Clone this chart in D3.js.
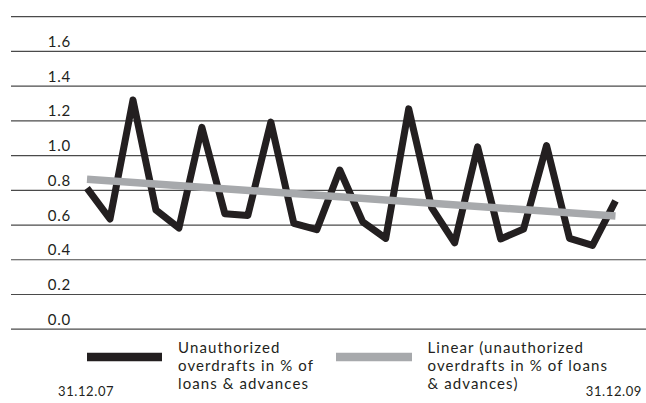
<!DOCTYPE html>
<html>
<head>
<meta charset="utf-8">
<script src="https://cdn.jsdelivr.net/npm/d3@7"></script>
<style>
  html, body { margin: 0; padding: 0; background: #fff; }
  svg { display: block; }
  text { font-family: Lato, "Open Sans", sans-serif; fill: #231f20; }
</style>
</head>
<body>
<svg id="chart" width="646" height="403"></svg>
<script>
// ---- data ----
const categories = ["01.08","02.08","03.08","04.08","05.08","06.08","07.08","08.08","09.08","10.08","11.08","12.08",
                    "01.09","02.09","03.09","04.09","05.09","06.09","07.09","08.09","09.09","10.09","11.09","12.09"];
const overdrafts = [0.81, 0.632, 1.317, 0.684, 0.58, 1.16, 0.662, 0.652, 1.19, 0.607, 0.57, 0.914,
                    0.615, 0.52, 1.266, 0.697, 0.494, 1.047, 0.517, 0.574, 1.055, 0.52, 0.48, 0.736];
const trendValues = [0.861, 0.649];           // linear trend at first and last category
const yTicks = [0, 0.2, 0.4, 0.6, 0.8, 1.0, 1.2, 1.4, 1.6, 1.8];
const yTickLabels = ["0.0","0.2","0.4","0.6","0.8","1.0","1.2","1.4","1.6",""];
const dateLabels = ["31.12.07", "31.12.09"];
const legendLines = [
  ["Unauthorized", "overdrafts in % of", "loans & advances"],
  ["Linear (unauthorized", "overdrafts in % of loans", "& advances)"]
];

// ---- layout ----
const svg = d3.select("#chart");
const x = d3.scalePoint().domain(categories).range([87, 615.5]);
const y = d3.scaleLinear().domain([0, 1.8]).range([328.7, 16.2]);

// gridlines + labels via axis
const yAxis = d3.axisLeft(y).tickValues(yTicks).tickSize(-635).tickFormat((d, i) => yTickLabels[i]);
const gAxis = svg.append("g").attr("transform", "translate(11,0)").call(yAxis);
gAxis.select(".domain").remove();
gAxis.selectAll(".tick line").attr("stroke", "#4a4a4a").attr("stroke-width", 1.2);
gAxis.selectAll(".tick text")
  .attr("x", 60).attr("dy", -4.5).attr("y", 0)
  .attr("text-anchor", "end")
  .style("font-family", 'Lato, "Open Sans", sans-serif')
  .style("font-size", "15px").style("letter-spacing", "0.8px")
  .attr("fill", "#231f20");

// black data line
const line = d3.line().x((d, i) => x(categories[i])).y(d => y(d));
svg.append("path").datum(overdrafts)
  .attr("d", line)
  .attr("fill", "none").attr("stroke", "#231f20").attr("stroke-width", 7)
  .attr("stroke-linejoin", "round").attr("stroke-linecap", "butt");

// trend line
const trendCats = [categories[0], categories[categories.length - 1]];
svg.append("path").datum(trendValues)
  .attr("d", d3.line().x((d, i) => x(trendCats[i])).y(d => y(d)))
  .attr("fill", "none").attr("stroke", "#a7a9ac").attr("stroke-width", 7.5)
  .attr("stroke-linecap", "butt");

// legend
const legendItems = [
  {color: "#231f20", x0: 87, x1: 162, tx: 178, lines: legendLines[0]},
  {color: "#a7a9ac", x0: 336, x1: 412, tx: 427.5, lines: legendLines[1]}
];
legendItems.forEach(it => {
  svg.append("line").attr("x1", it.x0).attr("x2", it.x1).attr("y1", 357).attr("y2", 357)
    .attr("stroke", it.color).attr("stroke-width", 8.5);
  it.lines.forEach((s, i) => {
    svg.append("text").attr("x", it.tx).attr("y", 353 + i * 18)
      .style("font-size", "15px").style("letter-spacing", "1.1px").text(s);
  });
});

// date labels
svg.append("text").attr("x", 58).attr("y", 396).style("font-size", "13px").style("letter-spacing", "0.6px").text(dateLabels[0]);
svg.append("text").attr("x", 642).attr("y", 396).attr("text-anchor", "end").style("font-size", "13px").style("letter-spacing", "0.6px").text(dateLabels[1]);
</script>
</body>
</html>
